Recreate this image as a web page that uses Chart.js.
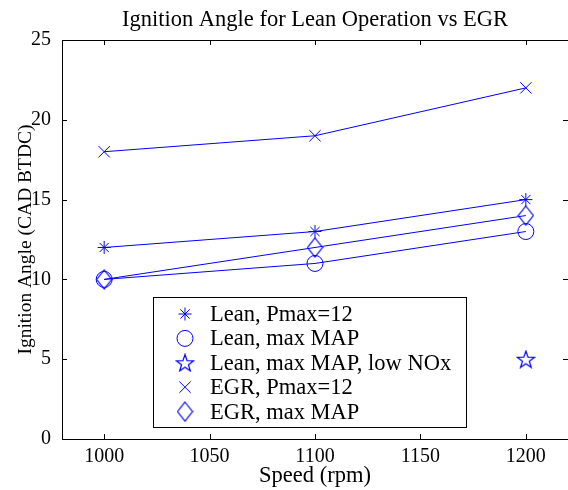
<!DOCTYPE html>
<html>
<head>
<meta charset="utf-8">
<script src="https://cdn.jsdelivr.net/npm/chart.js@4.4.0/dist/chart.umd.min.js"></script>
<style>
  html, body { margin: 0; padding: 0; background: #fff; }
  #wrap { width: 568px; height: 490px; }
</style>
</head>
<body>
<div id="wrap"><canvas id="chart" width="568" height="490"></canvas></div>
<script>
// data
const speeds = [1000, 1100, 1200];
const leanPmax = [12, 13, 15];
const leanMaxMap = [10, 11, 13];
const leanLowNox = [null, null, 5];
const egrPmax = [18, 19, 22];
const egrMaxMap = [10, 12, 14];
const seriesNames = ["Lean, Pmax=12", "Lean, max MAP", "Lean, max MAP, low NOx", "EGR, Pmax=12", "EGR, max MAP"];
const xTicks = [1000, 1050, 1100, 1150, 1200];
const yTicks = [0, 5, 10, 15, 20, 25];

const BLUE = "rgb(0,0,255)";
const SERIF = "'Liberation Serif', 'Times New Roman', serif";

// small canvases for marker shapes chart.js does not have
function makeMarker(w, h, draw) {
    const c = document.createElement("canvas");
    c.width = w; c.height = h;
    const g = c.getContext("2d");
    g.strokeStyle = BLUE;
    g.lineWidth = 1.2;
    draw(g, w, h);
    return c;
}
const starMarker = makeMarker(20, 19, (g, w, h) => {
    const cx = w / 2, cy = h / 2 + 0.8, ro = 9, ri = 3.6;
    g.beginPath();
    for (let i = 0; i < 10; i++) {
        const r = i % 2 ? ri : ro;
        const a = -Math.PI / 2 + i * Math.PI / 5;
        const px = cx + r * Math.cos(a), py = cy + r * Math.sin(a);
        if (i === 0) g.moveTo(px, py); else g.lineTo(px, py);
    }
    g.closePath();
    g.stroke();
});
const diamondMarker = makeMarker(17, 21, (g, w, h) => {
    g.beginPath();
    g.moveTo(w / 2, 1);
    g.lineTo(w - 1, h / 2);
    g.lineTo(w / 2, h - 1);
    g.lineTo(1, h / 2);
    g.closePath();
    g.stroke();
});

const markers = ["star", "circle", starMarker, "crossRot", diamondMarker];
const radii = [6.5, 8, 9, 8, 9];
const values = [leanPmax, leanMaxMap, leanLowNox, egrPmax, egrMaxMap];

const datasets = values.map((vals, i) => ({
    label: seriesNames[i],
    data: speeds.map((s, j) => ({ x: s, y: vals[j] })),
    borderColor: BLUE,
    backgroundColor: "rgba(0,0,0,0)",
    borderWidth: 1,
    pointStyle: markers[i],
    pointRadius: radii[i],
    pointBorderColor: BLUE,
    pointBackgroundColor: "rgba(0,0,0,0)",
    pointBorderWidth: 1,
    showLine: true,
    spanGaps: false
}));

// box round the axes with inward ticks, title and the legend box
const matlabAxes = {
    id: "matlabAxes",
    afterDraw(chart) {
        const ctx = chart.ctx;
        const a = chart.chartArea;
        const xs = chart.scales.x, ys = chart.scales.y;
        ctx.save();
        ctx.strokeStyle = "#000";
        ctx.lineWidth = 1;
        ctx.beginPath();
        // right side of the box falls just past the picture edge
        ctx.rect(a.left + 0.5, a.top + 0.5, a.right - a.left, a.bottom - a.top);
        ctx.stroke();
        ctx.beginPath();
        xTicks.forEach(v => {
            const px = Math.round(xs.getPixelForValue(v)) + 0.5;
            ctx.moveTo(px, a.bottom); ctx.lineTo(px, a.bottom - 5);
            ctx.moveTo(px, a.top); ctx.lineTo(px, a.top + 5);
        });
        yTicks.forEach(v => {
            const py = Math.round(ys.getPixelForValue(v)) + 0.5;
            ctx.moveTo(a.left, py); ctx.lineTo(a.left + 5, py);
            ctx.moveTo(a.right, py); ctx.lineTo(a.right - 5, py);
        });
        ctx.stroke();

        // title
        ctx.fillStyle = "#000";
        ctx.font = "22.5px " + SERIF;
        ctx.textAlign = "center";
        ctx.textBaseline = "alphabetic";
        ctx.fillText("Ignition Angle for Lean Operation vs EGR", (a.left + a.right) / 2, 26);

        // legend
        const lx = 153, ly = 297, lw = 313, lh = 130;
        ctx.fillStyle = "#fff";
        ctx.fillRect(lx, ly, lw, lh);
        ctx.strokeStyle = "#000";
        ctx.strokeRect(lx + 0.5, ly + 0.5, lw, lh);
        ctx.font = "22.5px " + SERIF;
        ctx.textAlign = "left";
        ctx.textBaseline = "middle";
        chart.data.datasets.forEach((ds, i) => {
            const ry = ly + 17 + i * 24.4;
            ctx.strokeStyle = BLUE;
            ctx.fillStyle = "rgba(0,0,0,0)";
            ctx.lineWidth = 1;
            Chart.helpers.drawPoint(ctx, {
                pointStyle: ds.pointStyle,
                radius: ds.pointRadius,
                borderWidth: 1,
                rotation: 0
            }, 185, ry);
            ctx.fillStyle = "#000";
            ctx.fillText(ds.label, 210, ry + 1);
        });
        ctx.restore();
    }
};

new Chart(document.getElementById("chart"), {
    type: "scatter",
    data: { datasets: datasets },
    options: {
        responsive: false,
        animation: false,
        layout: { autoPadding: false, padding: { top: 40, right: 0, left: 0, bottom: 0 } },
        plugins: {
            legend: { display: false },
            title: { display: false },
            tooltip: { enabled: false }
        },
        scales: {
            x: {
                type: "linear",
                min: 980,
                max: 1220,
                afterBuildTicks: s => { s.ticks = xTicks.map(v => ({ value: v })); },
                afterFit: s => { s.height = 51; s.paddingRight = 0; s.paddingLeft = 0; },
                grid: { display: false },
                border: { display: false },
                ticks: {
                    color: "#000",
                    font: { family: SERIF, size: 20 },
                    padding: -2,
                    maxRotation: 0,
                    callback: v => String(v)
                },
                title: {
                    display: true,
                    text: "Speed (rpm)",
                    color: "#000",
                    font: { family: SERIF, size: 22.5 },
                    padding: { top: 0, bottom: 0 }
                }
            },
            y: {
                min: 0,
                max: 25,
                afterBuildTicks: s => { s.ticks = yTicks.map(v => ({ value: v })); },
                afterFit: s => { s.width = 62; s.paddingTop = 0; s.paddingBottom = 0; },
                grid: { display: false },
                border: { display: false },
                ticks: {
                    color: "#000",
                    font: { family: SERIF, size: 20 },
                    padding: 3,
                    callback: v => String(v)
                },
                title: {
                    display: true,
                    text: "Ignition Angle (CAD BTDC)",
                    color: "#000",
                    font: { family: SERIF, size: 19.5 },
                    padding: { top: 14, bottom: 0 }
                }
            }
        }
    },
    plugins: [matlabAxes]
});
</script>
</body>
</html>
